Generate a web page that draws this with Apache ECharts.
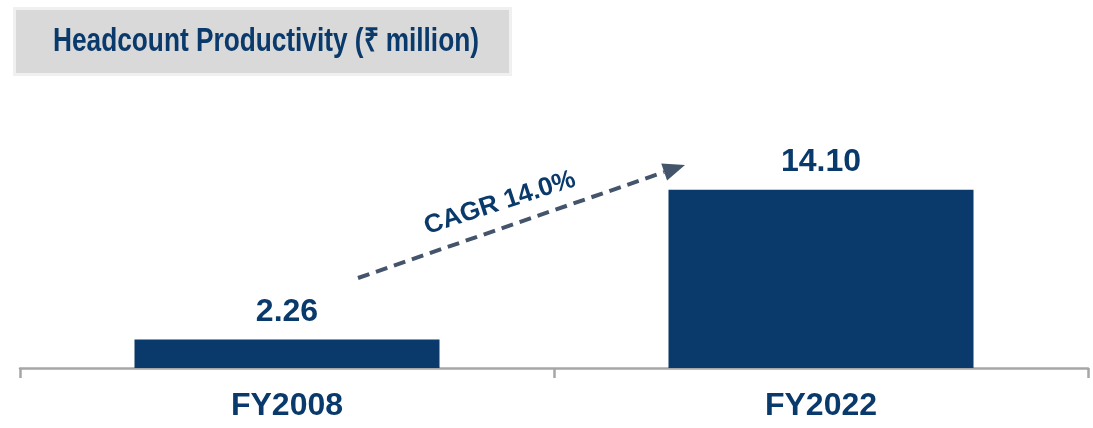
<!DOCTYPE html>
<html>
<head>
<meta charset="utf-8">
<script src="https://cdn.jsdelivr.net/npm/echarts@6/dist/echarts.min.js"></script>
<style>
html,body{margin:0;padding:0;background:#fff;}
#chart{width:1093px;height:428px;}
</style>
</head>
<body>
<div id="chart"></div>
<script>
const categories = ['FY2008', 'FY2022'];
const values = [2.26, 14.10];
const titleText = 'Headcount Productivity (₹ million)';
const cagrText = 'CAGR 14.0%';

const navy = '#093a6b';
const chart = echarts.init(document.getElementById('chart'));

const ang = 18.8 * Math.PI / 180;
const tip = [685, 165];
const ux = Math.cos(ang), uy = -Math.sin(ang);
const headLen = 22, headHalf = 9;
const base = [tip[0] - headLen * ux, tip[1] - headLen * uy];
const px = -uy, py = ux;

chart.setOption({
  animation: false,
  grid: { left: 20, right: 5, top: 115, bottom: 60 },
  xAxis: {
    type: 'category',
    data: categories,
    axisLine: { lineStyle: { color: '#a6a6a6', width: 2.5 } },
    axisTick: { show: true, length: 10, lineStyle: { color: '#a6a6a6', width: 2.5 } },
    axisLabel: { color: navy, fontSize: 32, fontWeight: 'bold', fontFamily: 'Liberation Sans, Arial, sans-serif', margin: 22 }
  },
  yAxis: { type: 'value', min: 0, max: 20, show: false, splitLine: { show: false } },
  series: [{
    type: 'bar',
    data: values,
    barWidth: 305,
    itemStyle: { color: navy },
    label: {
      show: true,
      position: 'top',
      distance: 11,
      color: navy,
      fontSize: 32,
      fontWeight: 'bold',
      fontFamily: 'Liberation Sans, Arial, sans-serif',
      formatter: p => p.value.toFixed(2)
    }
  }],
  graphic: [
    { type: 'rect', shape: { x: 14.5, y: 8.5, width: 496, height: 66 }, style: { fill: '#d9d9d9', stroke: '#f0f0f0', lineWidth: 3 } },
    { type: 'text', x: 266, y: 42, scaleX: 0.82, scaleY: 1.02,
      style: { text: titleText, x: 0, y: 0, fill: navy, font: 'bold 32px "Liberation Sans", Arial, sans-serif', textAlign: 'center', textVerticalAlign: 'middle', align: 'center', verticalAlign: 'middle' } },
    { type: 'line', shape: { x1: 358, y1: 278, x2: base[0], y2: base[1] }, style: { stroke: '#44546a', lineWidth: 4, lineDash: [12, 7] } },
    { type: 'polygon', shape: { points: [tip, [base[0] + headHalf * px, base[1] + headHalf * py], [base[0] - headHalf * px, base[1] - headHalf * py]] }, style: { fill: '#44546a' } },
    { type: 'text', x: 500, y: 203, rotation: 18 * Math.PI / 180,
      style: { text: cagrText, x: 0, y: 0, fill: navy, font: 'bold 26px "Liberation Sans", Arial, sans-serif', textAlign: 'center', textVerticalAlign: 'middle', align: 'center', verticalAlign: 'middle' } }
  ]
});
</script>
</body>
</html>
